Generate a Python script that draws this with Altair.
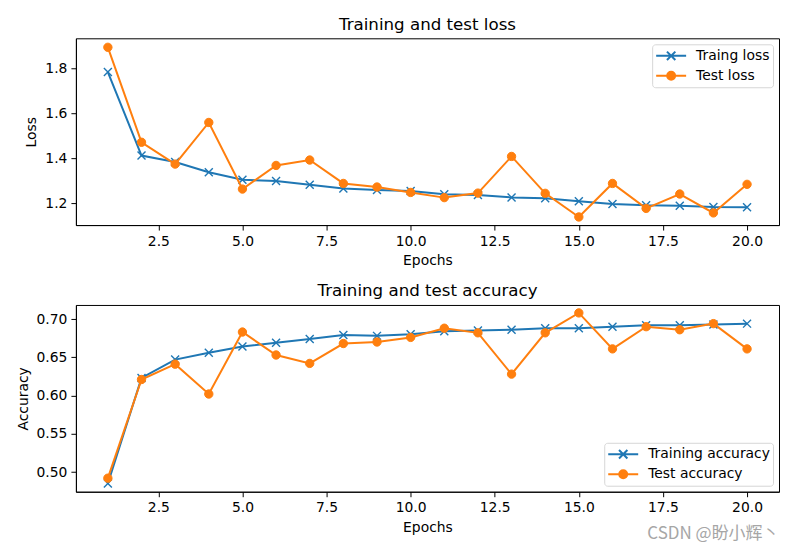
import altair as alt
import pandas as pd

epochs = list(range(1, 21))
x_ticks = [2.5, 5.0, 7.5, 10.0, 12.5, 15.0, 17.5, 20.0]

train_loss = [1.782, 1.411, 1.382, 1.337, 1.303, 1.298, 1.281, 1.265, 1.258, 1.253,
              1.239, 1.236, 1.225, 1.221, 1.208, 1.196, 1.190, 1.188, 1.182, 1.181]
test_loss = [1.892, 1.470, 1.373, 1.558, 1.262, 1.367, 1.391, 1.287, 1.271, 1.247,
             1.224, 1.244, 1.407, 1.243, 1.138, 1.287, 1.176, 1.240, 1.156, 1.283]
train_acc = [0.485, 0.623, 0.647, 0.656, 0.664, 0.669, 0.674, 0.679, 0.678, 0.680,
             0.684, 0.685, 0.686, 0.688, 0.688, 0.690, 0.692, 0.692, 0.693, 0.694]
test_acc = [0.492, 0.621, 0.641, 0.602, 0.683, 0.653, 0.642, 0.668, 0.670, 0.676,
            0.688, 0.682, 0.628, 0.682, 0.708, 0.661, 0.690, 0.686, 0.694, 0.661]

loss_names = ["Traing loss", "Test loss"]
acc_names = ["Training accuracy", "Test accuracy"]
loss_ticks = [1.2, 1.4, 1.6, 1.8]
acc_ticks = [0.50, 0.55, 0.60, 0.65, 0.70]

BLUE = "#1f77b4"
ORANGE = "#ff7f0e"
FONT = "DejaVu Sans"
X_PATH = "M-1,-1L1,1M-1,1L1,-1"
LEG_X = "M-1,0L3,0M0.44,-0.56L1.56,0.56M0.44,0.56L1.56,-0.56"
LEG_O = "M-1,0L3,0M1.53,0A0.53,0.53,0,1,1,0.47,0A0.53,0.53,0,1,1,1.53,0Z"


def panel(title, ytitle, s1, s2, names, ydomain, yticks, yfmt, orient):
    df = pd.DataFrame({
        "epoch": epochs + epochs,
        "value": s1 + s2,
        "series": [names[0]] * len(s1) + [names[1]] * len(s2),
    })
    x = alt.X("epoch:Q",
              scale=alt.Scale(domain=[0.05, 20.95], nice=False, zero=False),
              axis=alt.Axis(title="Epochs", values=x_ticks, format=".1f"))
    y = alt.Y("value:Q",
              scale=alt.Scale(domain=ydomain, nice=False, zero=False),
              axis=alt.Axis(title=ytitle, values=yticks, format=yfmt))
    base = alt.Chart(df)
    t1 = base.transform_filter(alt.datum.series == names[0])
    t2 = base.transform_filter(alt.datum.series == names[1])
    layers = [
        t1.mark_line(color=BLUE, strokeWidth=2).encode(x=x, y=y),
        t1.mark_point(shape=X_PATH, filled=False, color=BLUE, strokeWidth=1.4,
                      size=64, opacity=1).encode(x=x, y=y),
        t2.mark_line(color=ORANGE, strokeWidth=2).encode(x=x, y=y),
        t2.mark_point(shape="circle", filled=True, color=ORANGE, stroke=ORANGE,
                      strokeWidth=1, size=70, opacity=1).encode(x=x, y=y),
    ]
    leg = alt.Legend(title=None, orient=orient)
    legend_layer = base.transform_filter("false").mark_point(
        filled=True, strokeWidth=2, size=225, opacity=1
    ).encode(
        fill=alt.Fill("series:N", scale=alt.Scale(domain=names, range=[BLUE, ORANGE]), legend=leg),
        stroke=alt.Stroke("series:N", scale=alt.Scale(domain=names, range=[BLUE, ORANGE]), legend=leg),
        shape=alt.Shape("series:N", scale=alt.Scale(domain=names, range=[LEG_X, LEG_O]), legend=leg),
    )
    return alt.layer(*layers, legend_layer).properties(
        width=704, height=187,
        title=alt.TitleParams(title, offset=5),
    )


top = panel("Training and test loss", "Loss", train_loss, test_loss, loss_names,
            [1.102, 1.932], loss_ticks, ".1f", "top-right")
bottom = panel("Training and test accuracy", "Accuracy", train_acc, test_acc, acc_names,
               [0.4743, 0.7184], acc_ticks, ".2f", "bottom-right")

chart = alt.vconcat(top, bottom, spacing=13).resolve_scale(
    fill="independent", stroke="independent", shape="independent", y="independent"
).resolve_legend(
    fill="independent", stroke="independent", shape="independent"
).properties(
    title=alt.TitleParams("CSDN @盼小辉丶", orient="bottom", anchor="end", offset=-9,
                          font="Noto Sans CJK SC", fontSize=17, fontWeight="normal",
                          color="#a6a6a6"),
    padding={"left": 7, "top": 7, "right": 5, "bottom": 0},
).configure_view(
    stroke="black", strokeWidth=1
).configure_axis(
    grid=False, domainColor="black", domainWidth=1, tickColor="black", tickWidth=1,
    tickSize=5, labelPadding=4, labelFont=FONT, labelFontSize=13.9, labelColor="black",
    titleFont=FONT, titleFontSize=13.9, titleFontWeight="normal", titleColor="black",
    titlePadding=6,
).configure_title(
    font=FONT, fontSize=16.7, fontWeight="normal", color="black"
).configure_legend(
    labelFont=FONT, labelFontSize=13.9, labelColor="black", padding=3, offset=6,
    fillColor="rgba(255,255,255,0.8)", strokeColor="#d6d6d6", cornerRadius=3,
    symbolSize=225, symbolStrokeWidth=2, rowPadding=3, labelOffset=24,
)

chart.save("out.html", embed_options={"renderer": "svg", "actions": False})
